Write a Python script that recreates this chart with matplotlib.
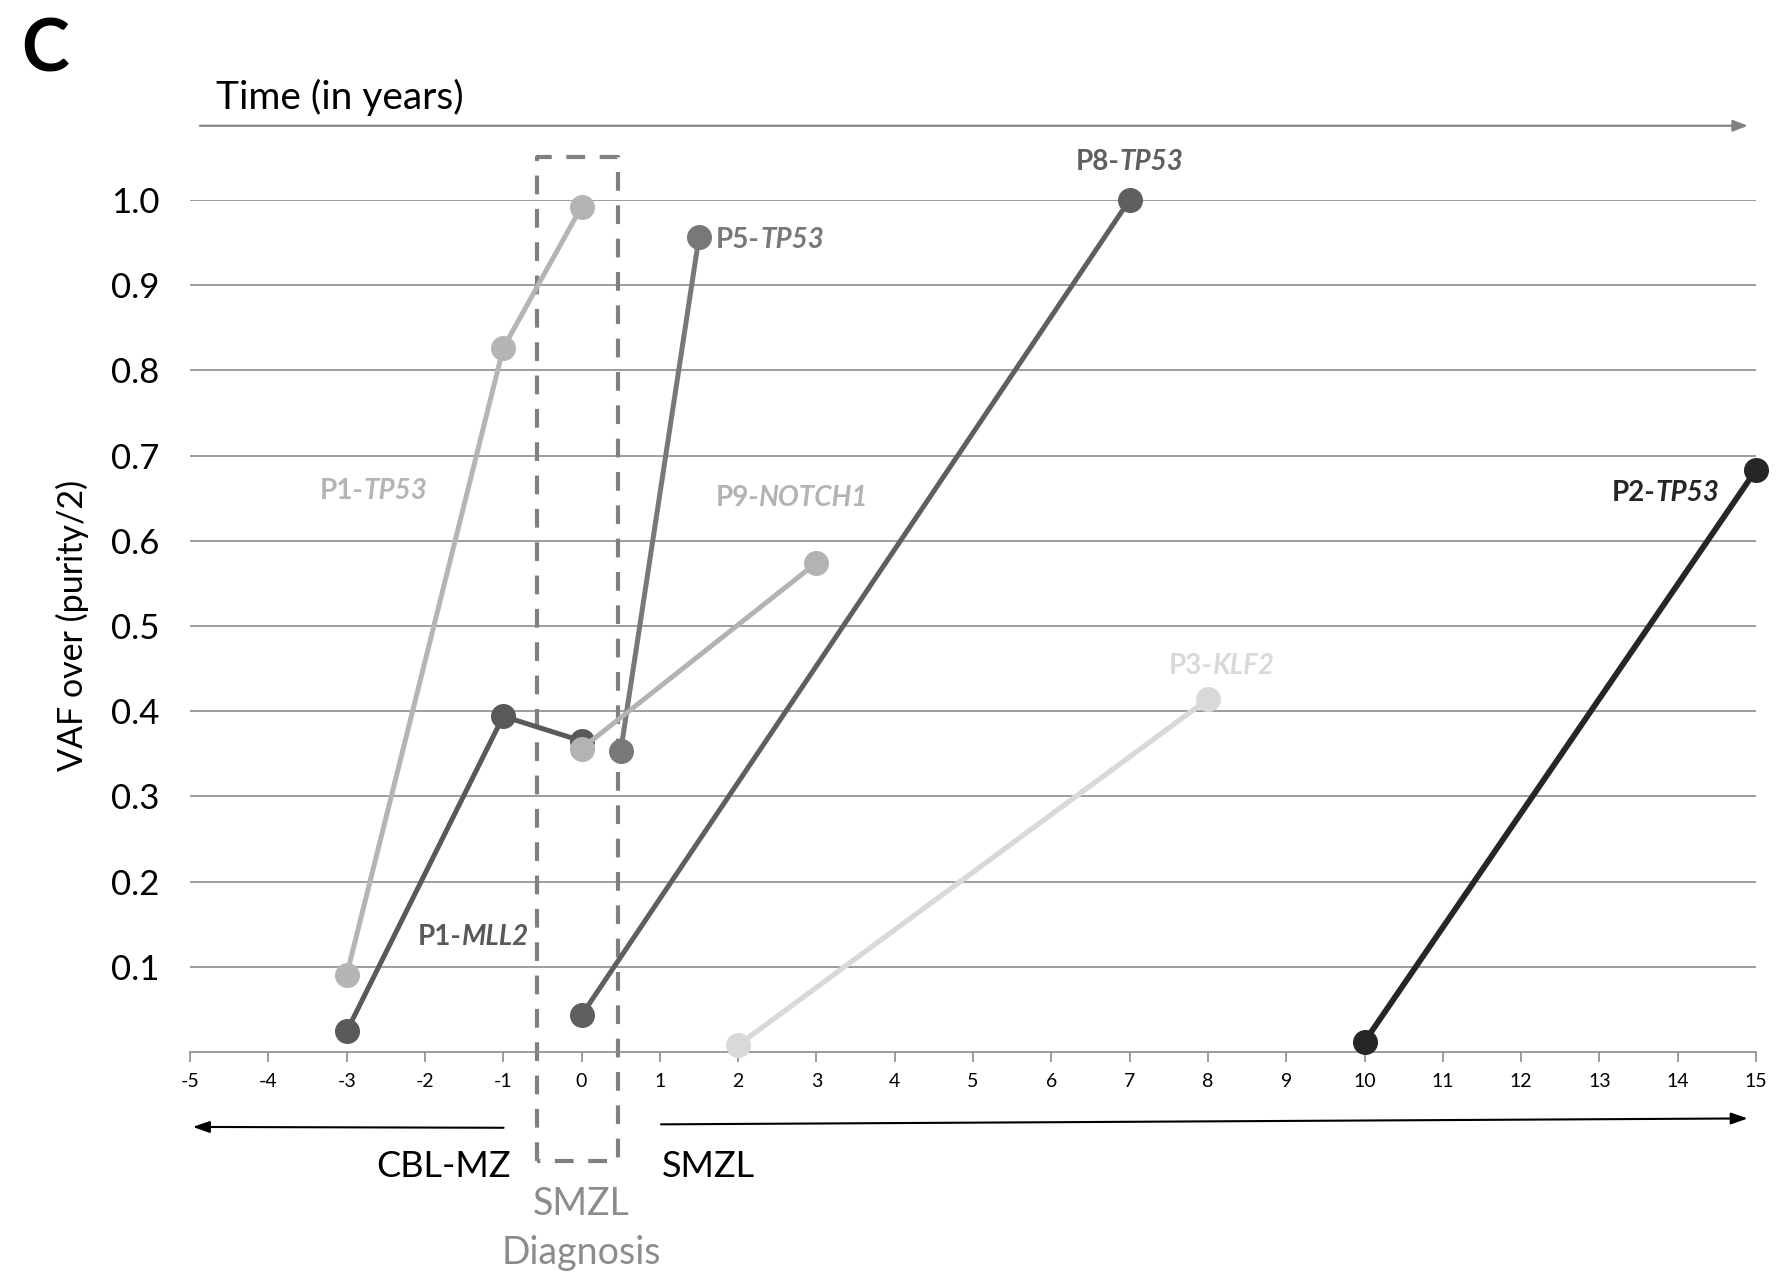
import matplotlib
matplotlib.use("Agg")
import matplotlib.pyplot as plt

plt.rcParams['font.family'] = ['Lato', 'DejaVu Sans']

# --- data (years relative to SMZL diagnosis, VAF over purity/2) ---
p1_tp53_x = [-3, -1, 0]
p1_tp53_y = [0.09, 0.826, 0.992]
p1_mll2_x = [-3, -1, 0]
p1_mll2_y = [0.024, 0.394, 0.365]
p5_tp53_x = [0.5, 1.5]
p5_tp53_y = [0.353, 0.956]
p9_notch1_x = [0, 3]
p9_notch1_y = [0.356, 0.574]
p8_tp53_x = [0, 7]
p8_tp53_y = [0.043, 1.0]
p3_klf2_x = [2, 8]
p3_klf2_y = [0.008, 0.414]
p2_tp53_x = [10, 15]
p2_tp53_y = [0.012, 0.683]

x_ticks = list(range(-5, 16))
y_ticks = [0.1, 0.2, 0.3, 0.4, 0.5, 0.6, 0.7, 0.8, 0.9, 1.0]

series = [
    # x, y, colour, linewidth, label, gene, label pos, ha
    (p1_mll2_x, p1_mll2_y, "#595959", 3.6, "P1-", "MLL2", (-1.38, 0.135), "center"),
    (p1_tp53_x, p1_tp53_y, "#b5b5b5", 3.6, "P1-", "TP53", (-2.66, 0.658), "center"),
    (p8_tp53_x, p8_tp53_y, "#5f5f5f", 3.6, "P8-", "TP53", (7.0, 1.044), "center"),
    (p5_tp53_x, p5_tp53_y, "#787878", 3.6, "P5-", "TP53", (1.72, 0.953), "left"),
    (p9_notch1_x, p9_notch1_y, "#b3b3b3", 3.6, "P9-", "NOTCH1", (2.69, 0.650), "center"),
    (p3_klf2_x, p3_klf2_y, "#d9d9d9", 3.8, "P3-", "KLF2", (8.18, 0.453), "center"),
    (p2_tp53_x, p2_tp53_y, "#262626", 4.2, "P2-", "TP53", (13.84, 0.656), "center"),
]

fig = plt.figure(figsize=(17.86, 12.74), dpi=100)
ax = fig.add_axes([0.1064, 0.1743, 0.8768, 0.6688])
ax.set_xlim(-5, 15)
ax.set_ylim(0, 1.0)

for y in y_ticks:
    ax.axhline(y, color="#8c8c8c", lw=1.2, zorder=1)

for s in ["top", "right", "left"]:
    ax.spines[s].set_visible(False)
ax.spines["bottom"].set_color("#8c8c8c")
ax.spines["bottom"].set_linewidth(1.2)

ax.set_xticks(x_ticks)
ax.set_xticklabels([str(v) for v in x_ticks], fontsize=14)
ax.tick_params(axis="x", direction="out", length=7, color="#8c8c8c", width=1.2, pad=8)
ax.set_yticks(y_ticks)
ax.set_yticklabels(["%.1f" % v for v in y_ticks], fontsize=25)
ax.tick_params(axis="y", length=0, pad=22)
ax.set_ylabel("VAF over (purity/2)", fontsize=24.5, labelpad=16)

fig.canvas.draw()
renderer = fig.canvas.get_renderer()

for x, y, col, lw, pre, gene, (lx, ly), ha in series:
    ax.plot(x, y, color=col, lw=lw, marker="o", markersize=17,
            markerfacecolor=col, markeredgecolor=col, zorder=3, clip_on=False)
    t1 = ax.text(lx, ly, pre, fontsize=20, fontweight="bold", color=col,
                 ha="left", va="center", zorder=4)
    t2 = ax.annotate(gene, xy=(1, 0), xycoords=t1, fontsize=20, fontweight="bold",
                     fontstyle="italic", color=col, ha="left", va="bottom", zorder=4)
    if ha == "center":
        w1 = t1.get_window_extent(renderer).width
        w2 = t2.get_window_extent(renderer).width
        inv = ax.transData.inverted()
        x0 = ax.transData.transform((lx, ly))[0] - (w1 + w2) / 2
        t1.set_x(inv.transform((x0, 0))[0])

# dashed box around SMZL diagnosis
box_x = [-0.57, -0.57, 0.47, 0.47, -0.57]
box_y = [-0.128, 1.05, 1.05, -0.128, -0.128]
ax.plot(box_x, box_y, color="#808080", lw=3, ls=(0, (4.5, 3.5)), clip_on=False, zorder=2)

# time arrow on top
ax.annotate("", xy=(14.93, 1.087), xytext=(-4.91, 1.087), xycoords="data",
            annotation_clip=False,
            arrowprops=dict(arrowstyle="-|>,head_length=0.9,head_width=0.35",
                            color="#808080", lw=1.5))
ax.text(-4.67, 1.12, "Time (in years)", fontsize=28, color="black", ha="left", va="center")

# bottom arrows
ax.annotate("", xy=(-5.0, -0.088), xytext=(-0.96, -0.089), xycoords="data",
            annotation_clip=False,
            arrowprops=dict(arrowstyle="-|>,head_length=1.0,head_width=0.35",
                            color="black", lw=1.5))
ax.annotate("", xy=(14.93, -0.078), xytext=(0.98, -0.085), xycoords="data",
            annotation_clip=False,
            arrowprops=dict(arrowstyle="-|>,head_length=1.0,head_width=0.35",
                            color="black", lw=1.5))
ax.text(-1.76, -0.135, "CBL-MZ", fontsize=26, ha="center", va="center")
ax.text(1.62, -0.135, "SMZL", fontsize=26, ha="center", va="center")
ax.text(0.0, -0.179, "SMZL", fontsize=27, ha="center", va="center", color="#8c8c8c")
ax.text(0.0, -0.236, "Diagnosis", fontsize=27, ha="center", va="center", color="#8c8c8c")

fig.text(0.012, 0.96, "C", fontsize=52, fontweight="bold", ha="left", va="center")

fig.savefig("out.png", dpi=100)
